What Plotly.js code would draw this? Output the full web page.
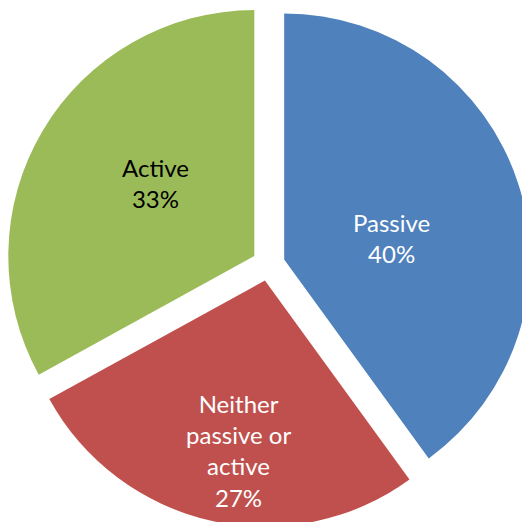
<!DOCTYPE html>
<html>
<head>
<meta charset="utf-8">
<script src="https://cdn.plot.ly/plotly-3.0.1.min.js"></script>
<style>
html, body { margin: 0; padding: 0; width: 522px; height: 522px; overflow: hidden; background: #fff; }
#chart { width: 540px; height: 540px; }
</style>
</head>
<body>
<div id="chart"></div>
<script>
const categories = ["Passive", "Neither passive or active", "Active"];
const labelText = ["Passive<br>40%", "Neither<br>passive or<br>active<br>27%", "Active<br>33%"];
const values = [40, 27, 33];
const colors = ["#4F81BD", "#C0504D", "#9BBB59"];
const textColors = ["#FFFFFF", "#FFFFFF", "#000000"];

const PULL = 0.067;
const W = 540, H = 540;
const margin = { l: 6, r: 9, t: 2, b: 13, pad: 0 };
const plotW = W - margin.l - margin.r;
const plotH = H - margin.t - margin.b;

const trace = {
  type: "pie",
  labels: categories,
  values: values,
  textinfo: "none",
  hoverinfo: "label+percent",
  sort: false,
  direction: "clockwise",
  rotation: 0,
  pull: values.map(() => PULL),
  marker: { colors: colors, line: { width: 0 } },
  showlegend: false
};

// Label placement relative to each slice's bisector (Excel "best fit" style)
const radialFrac = [0.445, 0.70, 0.50];
const angleShift = [5.9, -3.3, 5.4];
const total = values.reduce((a, b) => a + b, 0);
const rPx = Math.min(plotW, plotH) / (2 + 2 * PULL);
let cum = 0;
const annotations = values.map((v, i) => {
  const midDeg = (cum + v / 2) / total * 360 + angleShift[i];
  cum += v;
  const a = midDeg * Math.PI / 180;
  const dist = rPx * (PULL + radialFrac[i]);
  const dx = Math.sin(a) * dist;
  const dy = Math.cos(a) * dist;
  return {
    xref: "paper", yref: "paper",
    x: 0.5 + dx / plotW,
    y: 0.5 + dy / plotH,
    xanchor: "center", yanchor: "middle",
    showarrow: false,
    text: labelText[i],
    align: "center",
    font: { family: "Lato, 'Open Sans', sans-serif", size: 24, color: textColors[i] }
  };
});

const layout = {
  width: W,
  height: H,
  margin: margin,
  paper_bgcolor: "#FFFFFF",
  plot_bgcolor: "#FFFFFF",
  showlegend: false,
  annotations: annotations
};

Plotly.newPlot("chart", [trace], layout, { displayModeBar: false, staticPlot: true });
</script>
</body>
</html>
